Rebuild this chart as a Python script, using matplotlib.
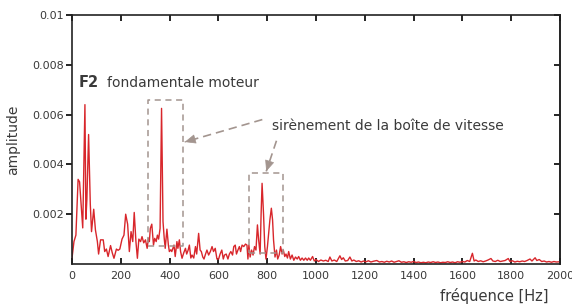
import numpy as np
import matplotlib
matplotlib.use("Agg")
import matplotlib.pyplot as plt

# spectre (amplitude en 1e-4)
freq = [0, 8, 16, 25, 31, 36, 44, 53, 57, 61, 68, 75, 80, 89, 96, 104, 109, 117, 128, 134,
        141, 148, 158, 165, 172, 182, 189, 196, 205, 213, 220, 228, 235, 242, 249, 255, 262, 268, 274, 281,
        287, 294, 301, 308, 313, 317, 321, 327, 334, 339, 345, 350, 355, 361, 367, 373, 378, 382, 389, 395,
        399, 405, 409, 418, 423, 430, 434, 440, 445, 451, 458, 465, 470, 476, 481, 487, 492, 499, 506, 511,
        519, 525, 530, 536, 541, 546, 553, 560, 567, 574, 580, 587, 594, 601, 607, 614, 620, 625, 632, 639,
        645, 651, 658, 663, 669, 674, 680, 686, 691, 697, 704, 711, 717, 721, 725, 730, 736, 742, 748, 754,
        760, 765, 771, 775, 779, 785, 790, 795, 801, 806, 811, 817, 822, 826, 832, 838, 843, 849, 855, 861,
        866, 872, 877, 883, 888, 895, 902, 909, 916, 923, 929, 936, 943, 950, 957, 964, 970, 977, 986, 993,
        1000, 1010, 1020, 1030, 1040, 1050, 1057, 1065, 1075, 1085, 1098, 1105, 1112, 1120, 1130, 1139, 1147, 1155, 1165, 1175,
        1185, 1195, 1205, 1215, 1225, 1235, 1249, 1260, 1270, 1280, 1290, 1300, 1310, 1320, 1330, 1340, 1350, 1360, 1370, 1380,
        1390, 1400, 1410, 1420, 1430, 1440, 1450, 1460, 1470, 1480, 1490, 1500, 1510, 1520, 1530, 1540, 1550, 1560, 1570, 1580,
        1590, 1600, 1610, 1620, 1630, 1641, 1648, 1655, 1665, 1675, 1685, 1695, 1705, 1717, 1725, 1735, 1745, 1755, 1765, 1775,
        1788, 1795, 1805, 1815, 1825, 1835, 1845, 1855, 1865, 1877, 1885, 1898, 1905, 1915, 1925, 1935, 1945, 1955, 1965, 1975,
        1985, 2000]
amp_e4 = [2.3, 9, 11.6, 34, 33, 26, 14.5, 64, 18, 26, 52, 24, 13, 22, 13.7, 9, 4, 9.7, 9.7, 5,
          6, 3, 7.4, 4.5, 2.3, 6, 5.5, 6, 10, 11.6, 20, 16, 5, 13, 9, 20.7, 9, 2.3, 10, 9,
          11, 8.5, 9.7, 6.3, 10.3, 9, 14.3, 16, 7.6, 10.3, 9, 11.6, 10, 14.3, 62.5, 17, 10.3, 6.3, 14, 7.6,
          5, 5.7, 5, 7.6, 3, 9, 6.3, 9.7, 5, 2.3, 4.5, 6.3, 4, 5.6, 7.6, 2.4, 3.6, 2.4, 7, 4,
          12.3, 5.6, 5, 2.8, 2, 3.6, 5.6, 3.6, 5, 7, 5, 6.3, 2, 2, 4, 5.6, 2, 3.6, 4, 2,
          4, 5, 3.6, 7, 7.6, 4, 5.6, 7, 5, 7.6, 7, 8, 7.6, 2, 7.6, 2.8, 5.6, 3.6, 7, 5.6,
          15.7, 9.6, 4, 20, 32.4, 20, 7, 2, 7, 12.3, 17.7, 22.4, 17.7, 9.6, 2.8, 5.6, 2, 3.6, 7, 4,
          5.6, 3, 4, 2.4, 5, 2, 3.6, 1.5, 2.8, 2, 3, 1.5, 2.4, 1.5, 2.4, 1.5, 2.4, 1.5, 3, 1.2,
          1.8, 1.0, 1.6, 1.2, 1.5, 1.0, 2.8, 1.2, 1.6, 1.0, 3.3, 1.8, 2.5, 1.2, 1.4, 2.8, 1.2, 1.6, 1.0, 1.3,
          0.8, 1.2, 0.9, 1.3, 0.8, 1.1, 1.4, 0.8, 1.0, 0.7, 1.1, 0.8, 1.2, 0.7, 1.0, 1.3, 0.7, 0.9, 0.6, 0.9,
          0.7, 1.0, 0.6, 0.8, 0.5, 0.7, 0.5, 0.8, 0.6, 0.9, 0.6, 0.8, 0.5, 0.7, 0.6, 0.9, 0.6, 0.8, 0.5, 0.9,
          0.7, 1.0, 0.8, 1.4, 1.0, 4.3, 1.2, 1.6, 1.0, 1.3, 0.9, 1.2, 1.6, 2.2, 1.2, 1.0, 1.5, 1.0, 1.2, 1.4,
          2.2, 1.0, 1.3, 0.8, 1.1, 0.9, 1.2, 1.0, 1.4, 2.0, 1.2, 2.5, 1.4, 1.8, 1.0, 1.2, 0.8, 1.0, 0.7, 1.0,
          0.8, 0.9]
amp = np.array(amp_e4) * 1e-4

xticks = list(range(0, 2001, 200))
yticks = [0.002, 0.004, 0.006, 0.008, 0.01]
ytick_labels = ["0.002", "0.004", "0.006", "0.008", "0.01"]

txt = "#3a3a3a"
grey = "#a3958f"

fig = plt.figure(figsize=(5.72, 3.04), dpi=100)
ax = fig.add_axes([72 / 572, 40 / 304, 488 / 572, 249 / 304])

ax.plot(freq, amp, color="#d8262b", lw=1.0)
ax.set_xlim(0, 2000)
ax.set_ylim(0, 0.01)

ax.set_xticks(xticks)
ax.set_xticklabels([str(t) for t in xticks])
ax.set_yticks(yticks)
ax.set_yticklabels(ytick_labels)
ax.tick_params(axis="x", direction="in", top=True, length=4, width=1.2,
               labelsize=8, labelcolor=txt, pad=5)
ax.tick_params(axis="y", direction="out", length=4, width=1.2,
               labelsize=8, labelcolor=txt, pad=2)
sec = ax.secondary_yaxis("right")
sec.set_yticks(yticks)
sec.tick_params(direction="in", length=4, width=1.2, labelright=False)
for s in list(ax.spines.values()) + list(sec.spines.values()):
    s.set_linewidth(1.2)
    s.set_color("#222222")

# boites pointillees
for (x0, x1, y0, y1) in [(311, 455, 0.00072, 0.00658), (725, 865, 0.00045, 0.00366)]:
    ax.plot([x0, x1, x1, x0, x0], [y0, y0, y1, y1, y0], ls=(0, (4, 3)), color=grey, lw=1.1)

# fleches
arrows = [((780, 0.0058), (462, 0.0049)), ((838, 0.00495), (796, 0.00372))]
for (sx, sy), (tx, ty) in arrows:
    ax.plot([sx, tx], [sy, ty], ls=(0, (5, 3)), color=grey, lw=1.2)
    dx, dy = tx - sx, ty - sy
    ax.annotate("", xy=(tx, ty), xytext=(tx - 0.12 * dx, ty - 0.12 * dy),
                arrowprops=dict(arrowstyle="-|>,head_length=0.7,head_width=0.3",
                                color=grey, lw=0.5, shrinkA=0, shrinkB=0))

ax.text(29, 0.00727, "F2", fontsize=10.5, fontweight="bold", color=txt, va="center")
ax.text(143, 0.00727, "fondamentale moteur", fontsize=10, color=txt, va="center")
ax.text(820, 0.00554, "sirènement de la boîte de vitesse", fontsize=10, color=txt, va="center")

fig.text(13 / 572, 1 - 140 / 304, "amplitude", rotation=90, fontsize=10, color=txt,
         ha="center", va="center")
fig.text(548 / 572, 1 - 296 / 304, "fréquence [Hz]", fontsize=10.5, color=txt,
         ha="right", va="center")

fig.savefig("out.png", dpi=100)
